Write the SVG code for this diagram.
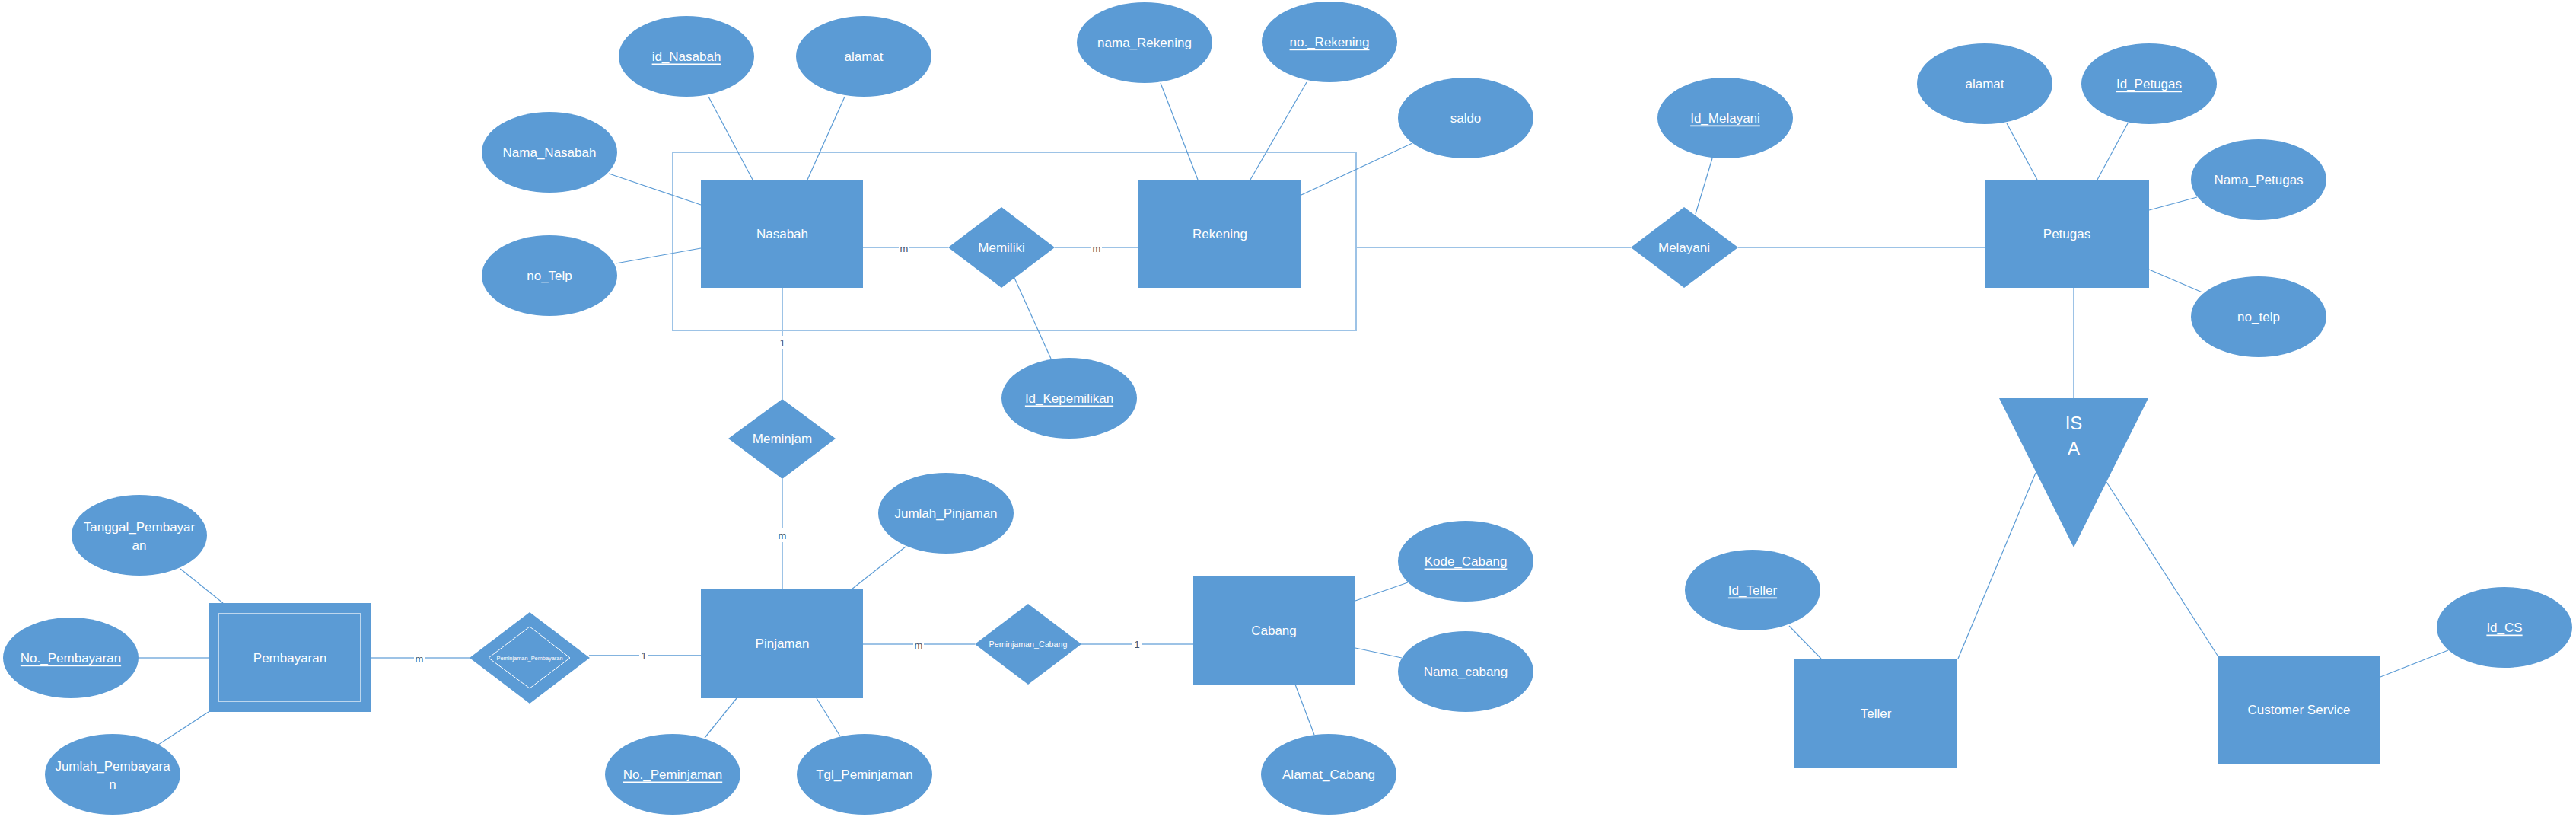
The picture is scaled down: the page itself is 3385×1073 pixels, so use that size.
<svg xmlns="http://www.w3.org/2000/svg" width="3385" height="1073" viewBox="0 0 3385 1073">
<style>
.e{fill:#5B9BD5}
.t{font-family:"Liberation Sans",Arial,sans-serif;font-size:17px;fill:#fff;text-anchor:middle;dominant-baseline:central}
.u{text-decoration:underline}
.a{stroke:#5B9BD5;stroke-width:1.2;fill:none}
.r{stroke:#9DC3E6;stroke-width:2;fill:none}
.c{font-family:"Liberation Sans",Arial,sans-serif;font-size:13px;fill:#44546A;text-anchor:middle;dominant-baseline:central}
.bg{fill:#fff}
</style>
<rect x="0" y="0" width="3385" height="1073" fill="#fff"/>
<g id="connectors">
<rect x="884" y="200" width="898" height="234" class="r"/>
<line x1="931" y1="127" x2="989" y2="236" class="a"/>
<line x1="1110" y1="127" x2="1061" y2="236" class="a"/>
<line x1="800" y1="228" x2="921" y2="269" class="a"/>
<line x1="809" y1="346" x2="921" y2="326" class="a"/>
<line x1="1134" y1="325" x2="1246" y2="325" class="r"/>
<line x1="1386" y1="325" x2="1496" y2="325" class="r"/>
<line x1="1333" y1="365" x2="1381" y2="471" class="a"/>
<line x1="1525" y1="109" x2="1574" y2="236" class="a"/>
<line x1="1717" y1="108" x2="1643" y2="236" class="a"/>
<line x1="1856" y1="188" x2="1710" y2="256" class="a"/>
<line x1="1782" y1="325" x2="2143" y2="325" class="r"/>
<line x1="2250" y1="208" x2="2228" y2="281" class="a"/>
<line x1="2284" y1="325" x2="2609" y2="325" class="r"/>
<line x1="2637" y1="162" x2="2677" y2="236" class="a"/>
<line x1="2796" y1="162" x2="2756" y2="236" class="a"/>
<line x1="2887" y1="259" x2="2824" y2="276" class="a"/>
<line x1="2824" y1="354" x2="2894" y2="384" class="a"/>
<line x1="2725" y1="378" x2="2725" y2="523" class="r"/>
<line x1="2675" y1="621" x2="2573" y2="865" class="a"/>
<line x1="2768" y1="633" x2="2914" y2="861" class="a"/>
<line x1="2351" y1="822" x2="2393" y2="865" class="a"/>
<line x1="3217" y1="854" x2="3128" y2="889" class="a"/>
<line x1="1028" y1="378" x2="1028" y2="524" class="r"/>
<line x1="1028" y1="629" x2="1028" y2="774" class="r"/>
<line x1="237" y1="747" x2="293" y2="792" class="a"/>
<line x1="182" y1="864" x2="274" y2="864" class="r"/>
<line x1="208" y1="978" x2="274" y2="935" class="a"/>
<line x1="488" y1="864" x2="617" y2="864" class="r"/>
<line x1="774" y1="861" x2="921" y2="861" class="a" style="stroke-width:1.6"/>
<line x1="1119" y1="774" x2="1190" y2="718" class="a"/>
<line x1="968" y1="917" x2="926" y2="969" class="a"/>
<line x1="1073" y1="917" x2="1104" y2="967" class="a"/>
<line x1="1134" y1="846" x2="1281" y2="846" class="r"/>
<line x1="1421" y1="846" x2="1568" y2="846" class="r"/>
<line x1="1850" y1="765" x2="1781" y2="789" class="a"/>
<line x1="1781" y1="851" x2="1842" y2="864" class="a"/>
<line x1="1702" y1="899" x2="1727" y2="965" class="a"/>
<rect x="1181" y="316" width="14" height="18" class="bg"/><text x="1188" y="326" class="c">m</text>
<rect x="1434" y="316" width="14" height="18" class="bg"/><text x="1441" y="326" class="c">m</text>
<rect x="1022" y="441" width="12" height="18" class="bg"/><text x="1028" y="450" class="c">1</text>
<rect x="1021" y="694" width="14" height="18" class="bg"/><text x="1028" y="703" class="c">m</text>
<rect x="544" y="855" width="14" height="18" class="bg"/><text x="551" y="865" class="c">m</text>
<rect x="840" y="852" width="12" height="18" class="bg"/><text x="846" y="861" class="c">1</text>
<rect x="1200" y="837" width="14" height="18" class="bg"/><text x="1207" y="847" class="c">m</text>
<rect x="1488" y="837" width="12" height="18" class="bg"/><text x="1494" y="846" class="c">1</text>
</g>
<g id="Nasabah"><rect x="921" y="236" width="213" height="142" class="e"/><text x="1028" y="307" class="t">Nasabah</text></g>
<g id="id_Nasabah"><ellipse cx="902" cy="74" rx="89" ry="53" class="e"/><text x="902" y="74" class="t u">id_Nasabah</text></g>
<g id="alamat_Nasabah"><ellipse cx="1135" cy="74" rx="89" ry="53" class="e"/><text x="1135" y="74" class="t">alamat</text></g>
<g id="Nama_Nasabah"><ellipse cx="722" cy="200" rx="89" ry="53" class="e"/><text x="722" y="200" class="t">Nama_Nasabah</text></g>
<g id="no_Telp"><ellipse cx="722" cy="362" rx="89" ry="53" class="e"/><text x="722" y="362" class="t">no_Telp</text></g>
<g id="Memiliki"><polygon points="1246,325 1316,272 1386,325 1316,378" class="e"/><text x="1316" y="325" class="t">Memiliki</text></g>
<g id="Id_Kepemilikan"><ellipse cx="1405" cy="523" rx="89" ry="53" class="e"/><text x="1405" y="523" class="t u">Id_Kepemilikan</text></g>
<g id="Rekening"><rect x="1496" y="236" width="214" height="142" class="e"/><text x="1603" y="307" class="t">Rekening</text></g>
<g id="nama_Rekening"><ellipse cx="1504" cy="56" rx="89" ry="53" class="e"/><text x="1504" y="56" class="t">nama_Rekening</text></g>
<g id="no_Rekening"><ellipse cx="1747" cy="55" rx="89" ry="53" class="e"/><text x="1747" y="55" class="t u">no._Rekening</text></g>
<g id="saldo"><ellipse cx="1926" cy="155" rx="89" ry="53" class="e"/><text x="1926" y="155" class="t">saldo</text></g>
<g id="Melayani"><polygon points="2143,325 2213,272 2284,325 2213,378" class="e"/><text x="2213" y="325" class="t">Melayani</text></g>
<g id="Id_Melayani"><ellipse cx="2267" cy="155" rx="89" ry="53" class="e"/><text x="2267" y="155" class="t u">Id_Melayani</text></g>
<g id="Petugas"><rect x="2609" y="236" width="215" height="142" class="e"/><text x="2716" y="307" class="t">Petugas</text></g>
<g id="alamat_Petugas"><ellipse cx="2608" cy="110" rx="89" ry="53" class="e"/><text x="2608" y="110" class="t">alamat</text></g>
<g id="Id_Petugas"><ellipse cx="2824" cy="110" rx="89" ry="53" class="e"/><text x="2824" y="110" class="t u">Id_Petugas</text></g>
<g id="Nama_Petugas"><ellipse cx="2968" cy="236" rx="89" ry="53" class="e"/><text x="2968" y="236" class="t">Nama_Petugas</text></g>
<g id="no_telp"><ellipse cx="2968" cy="416" rx="89" ry="53" class="e"/><text x="2968" y="416" class="t">no_telp</text></g>
<g id="ISA"><polygon points="2627,523 2823,523 2725,719" class="e"/><text x="2725" y="555" class="t" style="font-size:24px">IS</text><text x="2725" y="588" class="t" style="font-size:24px">A</text></g>
<g id="Teller"><rect x="2358" y="865" width="214" height="143" class="e"/><text x="2465" y="937" class="t">Teller</text></g>
<g id="Id_Teller"><ellipse cx="2303" cy="775" rx="89" ry="53" class="e"/><text x="2303" y="775" class="t u">Id_Teller</text></g>
<g id="Customer_Service"><rect x="2915" y="861" width="213" height="143" class="e"/><text x="3021" y="932" class="t">Customer Service</text></g>
<g id="Id_CS"><ellipse cx="3291" cy="824" rx="89" ry="53" class="e"/><text x="3291" y="824" class="t u">Id_CS</text></g>
<g id="Meminjam"><polygon points="957,576 1028,524 1098,576 1028,629" class="e"/><text x="1028" y="576" class="t">Meminjam</text></g>
<g id="Pinjaman"><rect x="921" y="774" width="213" height="143" class="e"/><text x="1028" y="845" class="t">Pinjaman</text></g>
<g id="Jumlah_Pinjaman"><ellipse cx="1243" cy="674" rx="89" ry="53" class="e"/><text x="1243" y="674" class="t">Jumlah_Pinjaman</text></g>
<g id="No_Peminjaman"><ellipse cx="884" cy="1017" rx="89" ry="53" class="e"/><text x="884" y="1017" class="t u">No._Peminjaman</text></g>
<g id="Tgl_Peminjaman"><ellipse cx="1136" cy="1017" rx="89" ry="53" class="e"/><text x="1136" y="1017" class="t">Tgl_Peminjaman</text></g>
<g id="Pembayaran"><rect x="274" y="792" width="214" height="143" class="e"/><rect x="287" y="806" width="187" height="115" fill="none" stroke="#fff" stroke-width="1.2"/><text x="381" y="864" class="t">Pembayaran</text></g>
<g id="Tanggal_Pembayaran"><ellipse cx="183" cy="703" rx="89" ry="53" class="e"/><text x="183" y="692" class="t">Tanggal_Pembayar</text><text x="183" y="716" class="t">an</text></g>
<g id="No_Pembayaran"><ellipse cx="93" cy="864" rx="89" ry="53" class="e"/><text x="93" y="864" class="t u">No._Pembayaran</text></g>
<g id="Jumlah_Pembayaran"><ellipse cx="148" cy="1017" rx="89" ry="53" class="e"/><text x="148" y="1006" class="t">Jumlah_Pembayara</text><text x="148" y="1030" class="t">n</text></g>
<g id="Peminjaman_Pembayaran"><polygon points="617,864 696,804 775,864 696,924" class="e"/><polygon points="642,864 696,823 749,864 696,904" fill="none" stroke="#fff" stroke-width="1"/><text x="696" y="864" class="t" style="font-size:7.4px">Peminjaman_Pembayaran</text></g>
<g id="Peminjaman_Cabang"><polygon points="1281,846 1351,793 1421,846 1351,899" class="e"/><text x="1351" y="846" class="t" style="font-size:10.7px">Peminjaman_Cabang</text></g>
<g id="Cabang"><rect x="1568" y="757" width="213" height="142" class="e"/><text x="1674" y="828" class="t">Cabang</text></g>
<g id="Kode_Cabang"><ellipse cx="1926" cy="737" rx="89" ry="53" class="e"/><text x="1926" y="737" class="t u">Kode_Cabang</text></g>
<g id="Nama_cabang"><ellipse cx="1926" cy="882" rx="89" ry="53" class="e"/><text x="1926" y="882" class="t">Nama_cabang</text></g>
<g id="Alamat_Cabang"><ellipse cx="1746" cy="1017" rx="89" ry="53" class="e"/><text x="1746" y="1017" class="t">Alamat_Cabang</text></g>
</svg>
